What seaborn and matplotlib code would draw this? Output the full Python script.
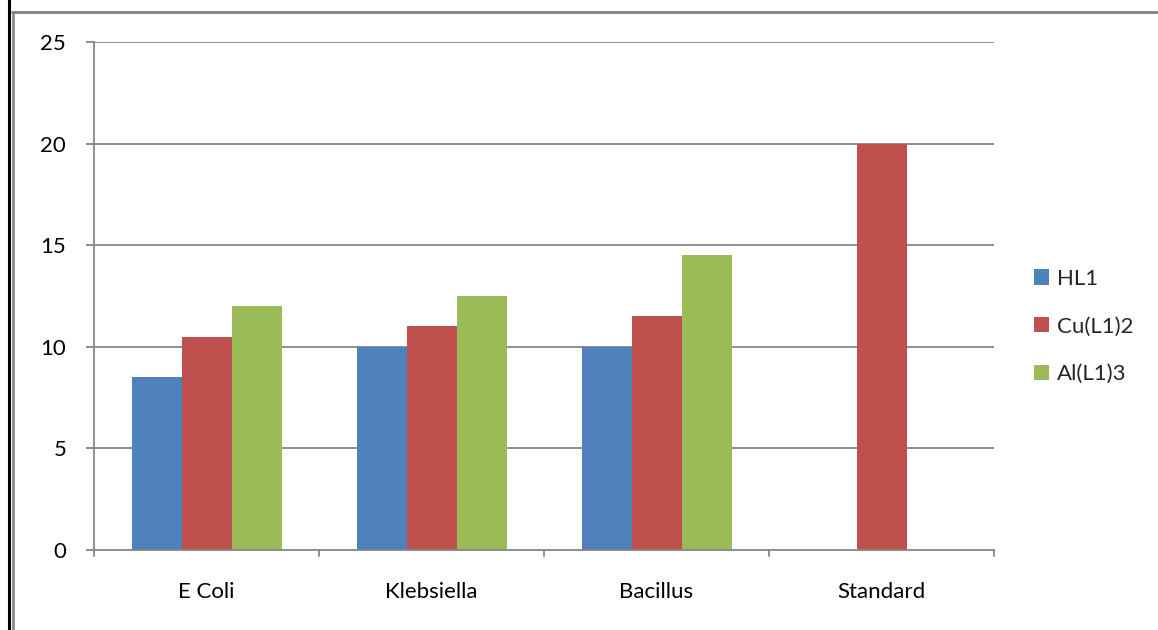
import matplotlib
matplotlib.use("Agg")
import matplotlib.pyplot as plt
import seaborn as sns
import pandas as pd
from matplotlib.lines import Line2D

categories = ["E Coli", "Klebsiella", "Bacillus", "Standard"]
series = ["HL1", "Cu(L1)2", "Al(L1)3"]
hl1 = [8.5, 10, 10, 0]
cu = [10.5, 11, 11.5, 20]
al = [12, 12.5, 14.5, 0]
colors = ["#4F81BD", "#C0504D", "#9BBB59"]
yticks = [0, 5, 10, 15, 20, 25]

rows = []
for name, vals in zip(series, [hl1, cu, al]):
    for cat, v in zip(categories, vals):
        rows.append({"category": cat, "series": name, "value": v})
df = pd.DataFrame(rows)

sns.set_theme(style="white")
plt.rcParams["font.family"] = ["Lato", "DejaVu Sans"]

fig = plt.figure(figsize=(11.58, 6.30), dpi=100)
ax = fig.add_axes([94 / 1158, 1 - 550 / 630, 900 / 1158, 508 / 630])

sns.barplot(data=df, x="category", y="value", hue="series", order=categories,
            hue_order=series, palette=colors, width=2 / 3, saturation=1,
            linewidth=0, ax=ax, legend=True)

grid_c = "#868686"
fs = 16
ax.set_ylim(0, 25)
ax.set_xlim(-0.5, 3.5)
ax.set_yticks(yticks)
ax.set_yticklabels([str(t) for t in yticks], fontsize=fs, color="black")
for t in yticks[1:]:
    ax.axhline(t, color=grid_c, linewidth=1.3, zorder=0)

ax.set_xticks(range(len(categories)))
ax.set_xticklabels(categories, fontsize=fs, color="black")
ax.tick_params(axis="x", length=0, pad=23)
ax.tick_params(axis="y", length=6, width=1.3, color=grid_c, pad=14, direction="out", left=True)
# category separator ticks beneath the baseline
for xb in [-0.5, 0.5, 1.5, 2.5, 3.5]:
    ax.plot([xb, xb], [0, -0.012], transform=ax.get_xaxis_transform(),
            color=grid_c, linewidth=1.3, clip_on=False)

ax.set_xlabel("")
ax.set_ylabel("")
for side in ["top", "right"]:
    ax.spines[side].set_visible(False)
for side in ["left", "bottom"]:
    ax.spines[side].set_color(grid_c)
    ax.spines[side].set_linewidth(1.3)

handles, labels = ax.get_legend_handles_labels()
ax.legend(handles, labels, loc="center left", bbox_to_anchor=(1.022, 0.44),
          frameon=False, fontsize=fs, handlelength=0.7, handleheight=0.7,
          handletextpad=0.35, labelspacing=1.25)

# outer frame of the chart area
fig.add_artist(Line2D([9 / 1158, 9 / 1158], [0, 1], color="black", linewidth=2.2,
                      transform=fig.transFigure))
fig.add_artist(Line2D([13 / 1158, 13 / 1158], [0, 1 - 12 / 630], color="#8c8c8c",
                      linewidth=2, transform=fig.transFigure))
fig.add_artist(Line2D([12 / 1158, 1157 / 1158], [1 - 12 / 630, 1 - 12 / 630],
                      color="#7f7f7f", linewidth=2, transform=fig.transFigure))

fig.savefig("out.png", dpi=100)
